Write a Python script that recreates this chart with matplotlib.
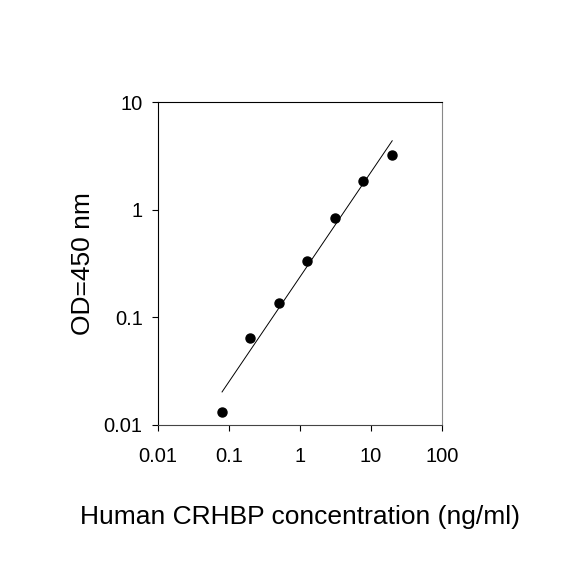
import numpy as np
import matplotlib
matplotlib.use('Agg')
import matplotlib.pyplot as plt

plt.rcParams['font.family'] = ['Liberation Sans', 'DejaVu Sans']

# Datos de la curva estándar
conc = [0.08, 0.2, 0.5, 1.25, 3.125, 7.8, 20]
od = [0.0133, 0.064, 0.135, 0.336, 0.84, 1.86, 3.22]

fig = plt.figure(figsize=(5.84, 5.84), dpi=100)
ax = fig.add_axes([0.2705, 0.2723, 0.486, 0.553])

# Ajuste lineal en escala log-log
coef = np.polyfit(np.log10(conc), np.log10(od), 1)
xfit = np.array([conc[0], conc[-1]])
yfit = 10 ** np.polyval(coef, np.log10(xfit))

ax.plot(xfit, yfit, color='black', linewidth=0.7)
ax.plot(conc, od, 'o', color='black', markersize=6.5)

ax.set_xscale('log')
ax.set_yscale('log')
ax.set_xlim(0.01, 100)
ax.set_ylim(0.01, 10)
ax.set_xticks([0.01, 0.1, 1, 10, 100])
ax.set_xticklabels(['0.01', '0.1', '1', '10', '100'])
ax.set_yticks([0.01, 0.1, 1, 10])
ax.set_yticklabels(['0.01', '0.1', '1', '10'])
ax.minorticks_off()
ax.tick_params(axis='x', direction='out', length=4, width=0.8, labelsize=14.5, pad=12)
ax.tick_params(axis='y', direction='out', length=4, width=0.8, labelsize=14.5, pad=7)

ax.spines['right'].set_color('#888888')
ax.spines['bottom'].set_color('#444444')

ax.set_xlabel('Human CRHBP concentration (ng/ml)', fontsize=19, labelpad=28)
ax.set_ylabel('OD=450 nm', fontsize=19, labelpad=6)

plt.savefig('out.png', dpi=100)
